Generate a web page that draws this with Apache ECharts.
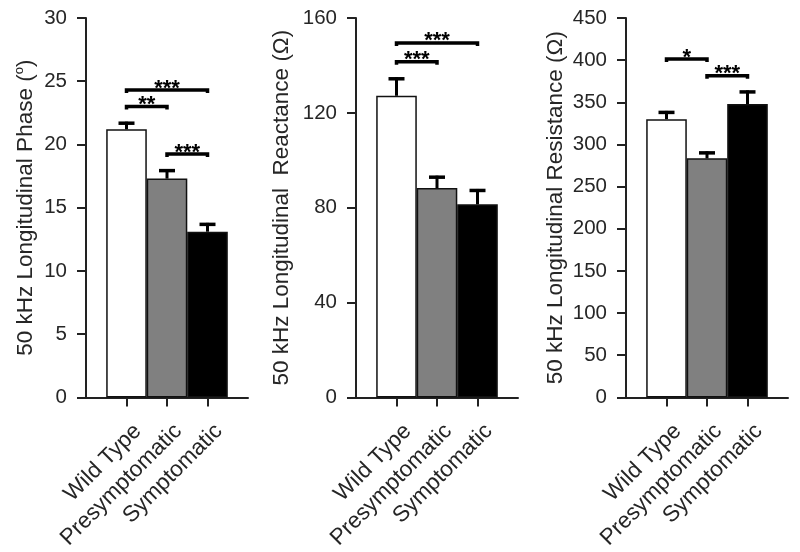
<!DOCTYPE html>
<html>
<head>
<meta charset="utf-8">
<script src="https://cdn.jsdelivr.net/npm/echarts@6/dist/echarts.min.js"></script>
<style>html,body{margin:0;padding:0;background:#fff}#c{width:800px;height:552px}</style>
</head>
<body>
<div id="c"></div>
<script>
// ---- data ----
const categories = ['Wild Type', 'Presymptomatic', 'Symptomatic'];
const barColors = ['#ffffff', '#808080', '#000000'];

const phaseMeans = [21.2, 17.3, 13.1];
const phaseErr = [0.6, 0.75, 0.7];
const phaseTicks = { min: 0, max: 30, interval: 5 };
const phaseSig = [[0, 2, 24.3, '***'], [0, 1, 23.0, '**'], [1, 2, 19.25, '***']];

const reactMeans = [127.2, 88.3, 81.4];
const reactErr = [7.8, 5.2, 6.5];
const reactTicks = { min: 0, max: 160, interval: 40 };
const reactSig = [[0, 2, 149.5, '***'], [0, 1, 141.5, '***']];

const resistMeans = [330, 283.5, 348];
const resistErr = [9.8, 8.3, 16.1];
const resistTicks = { min: 0, max: 450, interval: 50 };
const resistSig = [[0, 1, 401.4, '*'], [1, 2, 381.6, '***']];

const titles = [
  '50 kHz Longitudinal Phase ({sup|o})',
  '50 kHz Longitudinal  Reactance (\u03A9)',
  '50 kHz Longitudinal Resistance (\u03A9)'
];

// ---- layout ----
const FONT = '"Liberation Sans", Arial, sans-serif';
const lefts = [86, 356, 626];
const nameGaps = [47, 61, 53];
const panels = [
  { means: phaseMeans, err: phaseErr, ticks: phaseTicks, sig: phaseSig },
  { means: reactMeans, err: reactErr, ticks: reactTicks, sig: reactSig },
  { means: resistMeans, err: resistErr, ticks: resistTicks, sig: resistSig }
];
const axisCats = [''].concat(categories, ['']);
const AX = '#222';

const grid = [], xAxis = [], yAxis = [], series = [];
panels.forEach((p, k) => {
  grid.push({ left: lefts[k], top: 18, width: 162, height: 380 });
  xAxis.push({
    type: 'category', gridIndex: k, data: axisCats, boundaryGap: false,
    axisLine: { lineStyle: { color: AX, width: 2 } },
    axisTick: { show: true, length: 9, lineStyle: { color: AX, width: 2 },
      interval: (i) => i >= 1 && i <= 3 },
    axisLabel: { interval: (i) => i >= 1 && i <= 3, rotate: 45, margin: 19,
      hideOverlap: false,
      verticalAlign: 'top', lineHeight: 20, padding: [6, 0, 0, 0],
      fontSize: 22.5, fontFamily: FONT, color: '#262626' },
    splitLine: { show: false }
  });
  yAxis.push({
    type: 'value', gridIndex: k, min: p.ticks.min, max: p.ticks.max, interval: p.ticks.interval,
    name: titles[k], nameLocation: 'middle', nameGap: nameGaps[k],
    nameTextStyle: { fontSize: 22.5, fontFamily: FONT, color: '#262626', lineHeight: 26,
      rich: { sup: { fontSize: 13, fontFamily: FONT, color: '#262626', verticalAlign: 'top', lineHeight: 14 } } },
    axisLine: { show: true, lineStyle: { color: AX, width: 2 } },
    axisTick: { show: true, length: 9, lineStyle: { color: AX, width: 2 } },
    axisLabel: { margin: 19, fontSize: 20.5, fontFamily: FONT, color: '#262626' },
    splitLine: { show: false }
  });
  series.push({
    type: 'bar', xAxisIndex: k, yAxisIndex: k, barWidth: 40.6, z: 2,
    data: p.means.map((v, i) => ({ value: [i + 1, v],
      itemStyle: { color: barColors[i], borderColor: '#111', borderWidth: 1.5 } }))
  });
  series.push({
    type: 'custom', xAxisIndex: k, yAxisIndex: k, z: 3,
    encode: { x: 0, y: 1 },
    data: p.means.map((v, i) => [i + 1, v, p.err[i]]),
    renderItem: (params, api) => {
      const x = api.value(0), m = api.value(1), e = api.value(2);
      const a = api.coord([x, m]), b = api.coord([x, m + e]);
      return { type: 'group', children: [
        { type: 'line', shape: { x1: a[0], y1: a[1], x2: b[0], y2: b[1] },
          style: { stroke: '#000', lineWidth: 3 } },
        { type: 'line', shape: { x1: b[0] - 8, y1: b[1] + 1.5, x2: b[0] + 8, y2: b[1] + 1.5 },
          style: { stroke: '#000', lineWidth: 3.5 } }
      ] };
    }
  });
  const sig = p.sig;
  series.push({
    type: 'custom', xAxisIndex: k, yAxisIndex: k, z: 4, clip: false,
    encode: { x: [0, 1], y: 2 },
    data: sig.map(s => [s[0] + 1, s[1] + 1, s[2]]),
    renderItem: (params, api) => {
      const x1 = api.value(0), x2 = api.value(1), y = api.value(2);
      const p1 = api.coord([x1, y]), p2 = api.coord([x2, y]);
      return { type: 'group', children: [
        { type: 'polyline', shape: { points: [[p1[0], p1[1] + 3], [p1[0], p1[1]], [p2[0], p2[1]], [p2[0], p2[1] + 3]] },
          style: { stroke: '#000', lineWidth: 3.5, fill: null } },
        { type: 'text', style: { text: sig[params.dataIndex][3], x: (p1[0] + p2[0]) / 2, y: p1[1] - 1.5,
          align: 'center', verticalAlign: 'middle', font: 'bold 22px ' + FONT, fill: '#000' } }
      ] };
    }
  });
});

const chart = echarts.init(document.getElementById('c'), null, { renderer: 'canvas' });
chart.setOption({ animation: false, backgroundColor: '#fff', grid, xAxis, yAxis, series });
</script>
</body>
</html>
